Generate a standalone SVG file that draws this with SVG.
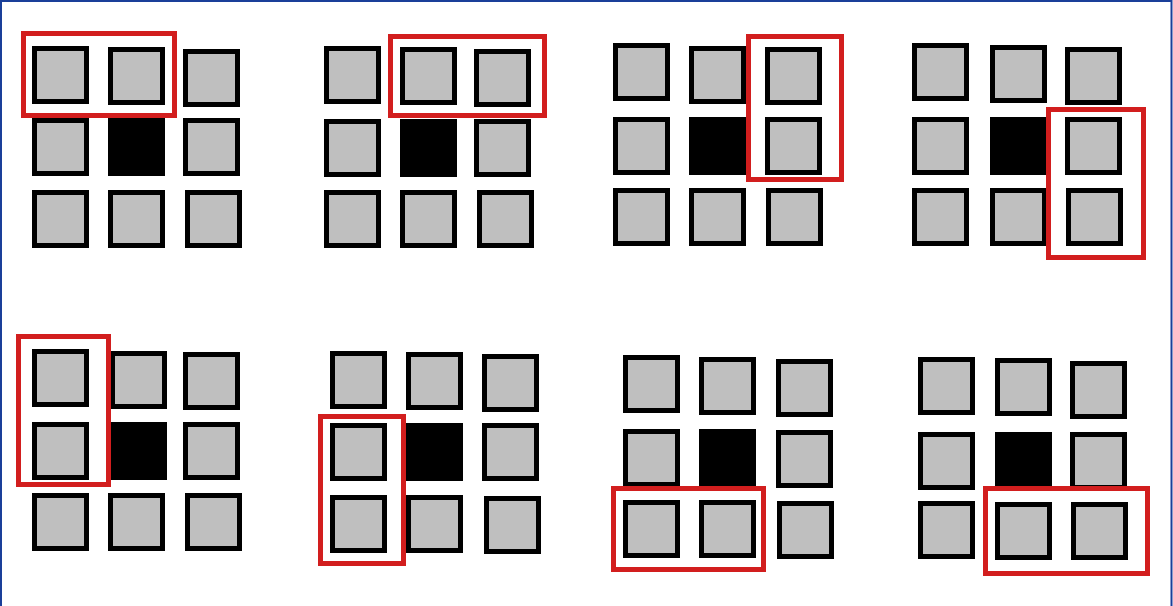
<svg xmlns="http://www.w3.org/2000/svg" width="1173" height="606" viewBox="0 0 1173 606">
<style>
.c{fill:#bfbfbf;stroke:#000;stroke-width:5}
.b{fill:#000;stroke:#000;stroke-width:5}
.r{fill:none;stroke:#d21e1e;stroke-width:5}
</style>
<defs>
<rect id="cell" class="c" x="2.5" y="2.5" width="52" height="53"/>
<rect id="blk" class="b" x="2.5" y="2.5" width="52" height="53"/>
</defs>
<rect x="0" y="0" width="1173" height="606" fill="#fff"/>
<path d="M1,610 V1 H1171.5 V610" fill="none" stroke="#1a3f99" stroke-width="2"/>
<g id="panel1">
<use href="#cell" x="32" y="46"/><use href="#cell" x="108" y="47"/><use href="#cell" x="183" y="49"/>
<use href="#cell" x="32" y="118"/><use href="#blk" x="108" y="118"/><use href="#cell" x="183" y="118"/>
<use href="#cell" x="32" y="190"/><use href="#cell" x="108" y="190"/><use href="#cell" x="185" y="190"/>
<rect class="r" x="23.5" y="33.5" width="151" height="82"/>
</g>
<g id="panel2">
<use href="#cell" x="324" y="46"/><use href="#cell" x="400" y="47"/><use href="#cell" x="474" y="49"/>
<use href="#cell" x="324" y="119"/><use href="#blk" x="400" y="119"/><use href="#cell" x="474" y="119"/>
<use href="#cell" x="324" y="190"/><use href="#cell" x="400" y="190"/><use href="#cell" x="477" y="190"/>
<rect class="r" x="390.5" y="36.5" width="154" height="79"/>
</g>
<g id="panel3">
<use href="#cell" x="613" y="43"/><use href="#cell" x="689" y="46"/><use href="#cell" x="765" y="47"/>
<use href="#cell" x="613" y="117"/><use href="#blk" x="689" y="117"/><use href="#cell" x="765" y="117"/>
<use href="#cell" x="613" y="188"/><use href="#cell" x="689" y="188"/><use href="#cell" x="766" y="188"/>
<rect class="r" x="748.5" y="36.5" width="93" height="143"/>
</g>
<g id="panel4">
<use href="#cell" x="912" y="43"/><use href="#cell" x="990" y="45"/><use href="#cell" x="1065" y="47"/>
<use href="#cell" x="912" y="117"/><use href="#blk" x="990" y="117"/><use href="#cell" x="1065" y="117"/>
<use href="#cell" x="912" y="188"/><use href="#cell" x="990" y="188"/><use href="#cell" x="1066" y="188"/>
<rect class="r" x="1048.5" y="109.5" width="95" height="148"/>
</g>
<g id="panel5">
<use href="#cell" x="32" y="349"/><use href="#cell" x="110" y="351"/><use href="#cell" x="183" y="352"/>
<use href="#cell" x="32" y="422"/><use href="#blk" x="110" y="422"/><use href="#cell" x="183" y="422"/>
<use href="#cell" x="32" y="493"/><use href="#cell" x="108" y="493"/><use href="#cell" x="185" y="493"/>
<rect class="r" x="18.5" y="336.5" width="90" height="148"/>
</g>
<g id="panel6">
<use href="#cell" x="330" y="351"/><use href="#cell" x="406" y="352"/><use href="#cell" x="482" y="354"/>
<use href="#cell" x="330" y="423"/><use href="#blk" x="406" y="423"/><use href="#cell" x="482" y="423"/>
<use href="#cell" x="330" y="495"/><use href="#cell" x="406" y="495"/><use href="#cell" x="484" y="496"/>
<rect class="r" x="320.5" y="416.5" width="83" height="147"/>
</g>
<g id="panel7">
<use href="#cell" x="623" y="355"/><use href="#cell" x="699" y="357"/><use href="#cell" x="776" y="359"/>
<use href="#cell" x="623" y="429"/><use href="#blk" x="699" y="429"/><use href="#cell" x="776" y="430"/>
<use href="#cell" x="623" y="500"/><use href="#cell" x="699" y="500"/><use href="#cell" x="777" y="501"/>
<rect class="r" x="613.5" y="488.5" width="150" height="81"/>
</g>
<g id="panel8">
<use href="#cell" x="918" y="357"/><use href="#cell" x="995" y="358"/><use href="#cell" x="1070" y="361"/>
<use href="#cell" x="918" y="432"/><use href="#blk" x="995" y="432"/><use href="#cell" x="1070" y="432"/>
<use href="#cell" x="918" y="501"/><use href="#cell" x="995" y="502"/><use href="#cell" x="1071" y="502"/>
<rect class="r" x="985.5" y="488.5" width="162" height="85"/>
</g>
<g id="connectors"/>
</svg>
